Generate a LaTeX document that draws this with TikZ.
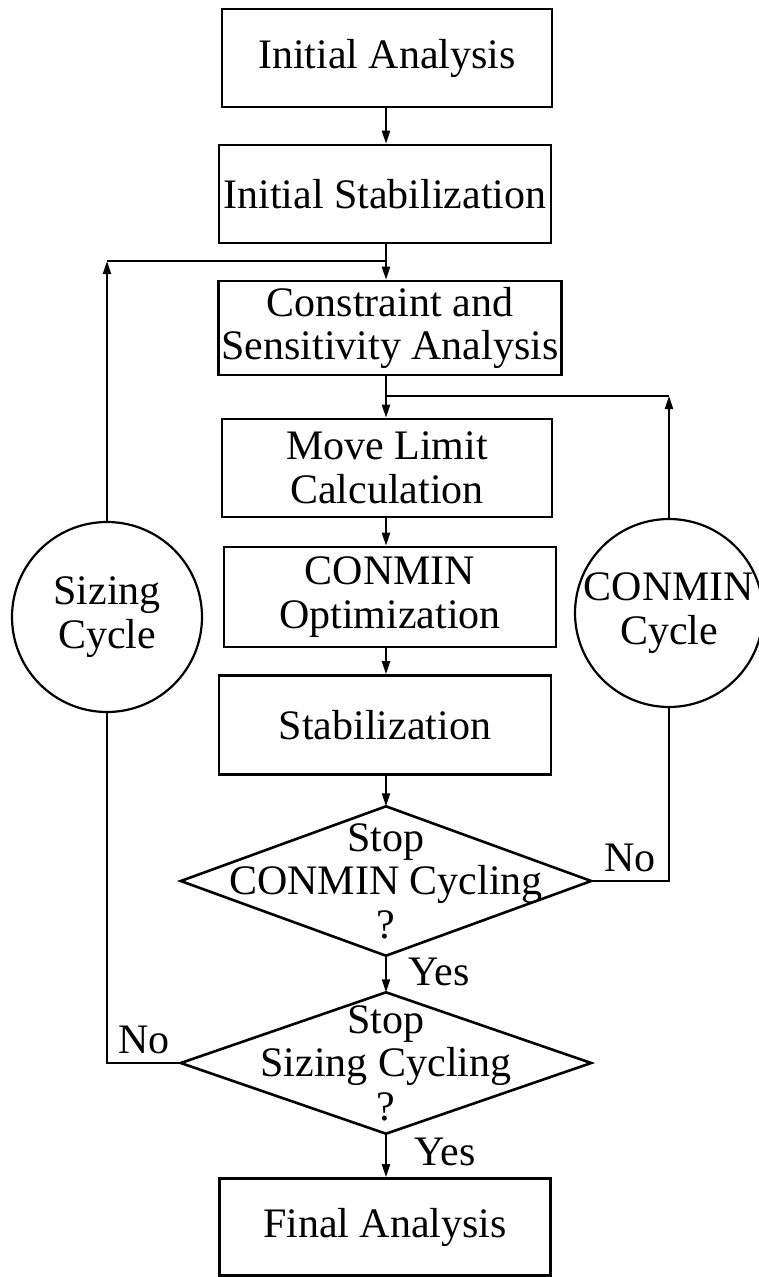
\documentclass[tikz,border=0pt]{standalone}
\usepackage{fontspec}
\setmainfont{Liberation Serif}
\usetikzlibrary{arrows.meta}
\begin{document}
\begin{tikzpicture}[x=1pt,y=-1pt,
  every node/.style={font=\fontsize{42}{43.5}\selectfont, inner sep=0pt, align=center},
  stepbox/.style={draw, line width=2.6pt, minimum width=#1},
  ring/.style={draw, circle, line width=2.2pt, minimum size=#1},
  dia/.style={minimum width=410pt},
  conn/.style={line width=2pt},
  arr/.style={conn, -{Triangle[length=13pt,width=8pt]}},
  lbl/.style={}
]
\useasboundingbox (0,0) rectangle (759,1277);

% process boxes
\node[stepbox=330pt, minimum height=98pt] (ia) at (387,58) {Initial Analysis};
\node[stepbox=332pt, minimum height=98pt] (is) at (385,194) {Initial Stabilization};
\node[stepbox=343pt, minimum height=94pt] (cs) at (390,328) {Constraint and\\Sensitivity Analysis};
\node[stepbox=330pt, minimum height=98pt] (ml) at (387,468) {Move Limit\\Calculation};
\node[stepbox=332pt, minimum height=100pt] (co) at (390,597) {CONMIN\\Optimization};
\node[stepbox=332pt, minimum height=99pt] (st) at (385,725) {Stabilization};
\node[stepbox=331pt, minimum height=97pt] (fa) at (385,1227) {Final Analysis};

% decision diamonds
\node[dia, minimum height=149pt] (d1) at (386,881) {Stop\\CONMIN Cycling\\?};
\node[dia, minimum height=141pt] (d2) at (386,1063) {Stop\\Sizing Cycling\\?};
\draw[line width=2.6pt, line join=miter] (d1.north) -- (d1.east) -- (d1.south) -- (d1.west) -- cycle;
\draw[line width=2.6pt, line join=miter] (d2.north) -- (d2.east) -- (d2.south) -- (d2.west) -- cycle;

% cycle circles
\node[ring=190pt] (sz) at (107,617) {Sizing\\Cycle};
\node[ring=186pt] (cc) at (669,613) {CONMIN\\Cycle};

% junction coordinates
\coordinate (j1) at (386,261);
\coordinate (c1) at (107,261);
\coordinate (j2) at (386,396);
\coordinate (c2) at (669,396);

% main flow
\draw[arr] (ia.south -| j1) -- (is.north -| j1);
\draw[arr] (is.south -| j1) -- (cs.north -| j1);
\draw[arr] (cs.south -| j1) -- (ml.north -| j1);
\draw[arr] (ml.south -| j1) -- (co.north -| j1);
\draw[arr] (co.south -| j1) -- (st.north -| j1);
\draw[arr] (st.south -| j1) -- (d1.north);
\draw[arr] (d1.south) -- (d2.north);
\draw[arr] (d2.south) -- (fa.north -| d2.south);

% sizing loop
\draw[conn] (d2.west) -| (sz.south);
\draw[arr] (sz.north) -- (c1);
\draw[conn] (c1) -- (j1);

% conmin loop
\draw[conn] (d1.east) -| (cc.south);
\draw[arr] (cc.north) -- (c2);
\draw[conn] (c2) -- (j2);

% labels
\node[lbl] (no1) at (630,858) {No};
\node[lbl] (no2) at (144,1040) {No};
\node[lbl] (yes1) at (439,972) {Yes};
\node[lbl] (yes2) at (445,1152) {Yes};
\end{tikzpicture}
\end{document}
